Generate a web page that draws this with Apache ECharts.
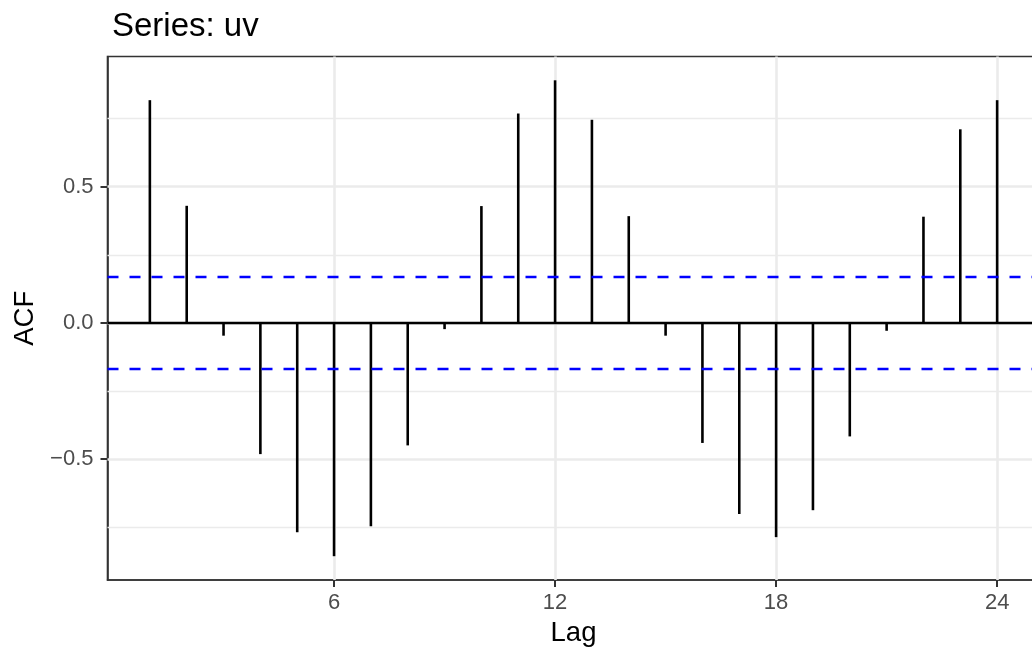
<!DOCTYPE html>
<html>
<head>
<meta charset="utf-8">
<title>Series: uv</title>
<script src="https://cdn.jsdelivr.net/npm/echarts@6/dist/echarts.min.js"></script>
<style>
  html, body { margin: 0; padding: 0; background: #ffffff; }
  #chart { width: 1032px; height: 651px; }
</style>
</head>
<body>
<div id="chart"></div>
<script>
// Autocorrelation of series "uv", lags 1..24
const lags = [1, 2, 3, 4, 5, 6, 7, 8, 9, 10, 11, 12, 13, 14, 15, 16, 17, 18, 19, 20, 21, 22, 23, 24];
const acfValues = [0.818, 0.430, -0.047, -0.482, -0.769, -0.857, -0.747, -0.450, -0.023,
                   0.429, 0.769, 0.891, 0.746, 0.392, -0.047, -0.441, -0.702, -0.787,
                   -0.688, -0.417, -0.029, 0.390, 0.711, 0.818];
const ciLimit = 0.166;               // 1.96 / sqrt(n)
const xTicks = [6, 12, 18, 24];
const yTicks = [-0.5, 0, 0.5];
const yMinorTicks = [-0.75, -0.25, 0.25, 0.75];

const FONT = "'Liberation Sans', Arial, Helvetica, sans-serif";
const TICK_LEN = 7;

// ggplot-style 5% expansion of the data range
function expand(lo, hi) {
  const pad = (hi - lo) * 0.05;
  return [lo - pad, hi + pad];
}
const yLim = expand(Math.min(...acfValues, -ciLimit), Math.max(...acfValues, ciLimit));
const xLim = expand(Math.min(...lags), Math.max(...lags));

const fmtY = v => (v < 0 ? '\u2212' : '') + Math.abs(v).toFixed(1);

const axisLineStyle = { color: '#333333', width: 1.6 };
const tickLineStyle = { color: '#333333', width: 2 };

const chart = echarts.init(document.getElementById('chart'), null, { renderer: 'canvas' });

chart.setOption({
  animation: false,
  backgroundColor: '#ffffff',
  title: {
    text: 'Series: uv',
    left: 107,
    top: 5,
    textStyle: { fontFamily: FONT, fontSize: 33, fontWeight: 'normal', color: '#000000' }
  },
  grid: {
    left: 107.5,
    top: 56.5,
    width: 932,
    height: 523.5,
    outerBoundsMode: 'none',
    containLabel: false,
    show: true,
    borderColor: '#333333',
    borderWidth: 1.6,
    backgroundColor: 'transparent'
  },
  xAxis: {
    type: 'value',
    min: xLim[0],
    max: xLim[1],
    name: 'Lag',
    nameLocation: 'middle',
    nameGap: 39,
    nameTextStyle: { fontFamily: FONT, fontSize: 27.5, color: '#000000' },
    axisLine: { show: true, onZero: false, lineStyle: axisLineStyle },
    splitLine: { show: false },
    axisTick: { show: true, inside: false, customValues: xTicks, length: TICK_LEN, lineStyle: tickLineStyle },
    axisLabel: {
      customValues: xTicks,
      margin: 12,
      fontFamily: FONT, fontSize: 22, color: '#4D4D4D'
    }
  },
  yAxis: {
    type: 'value',
    min: yLim[0],
    max: yLim[1],
    name: 'ACF',
    nameLocation: 'middle',
    nameRotate: 90,
    nameGap: 68,
    nameTextStyle: { fontFamily: FONT, fontSize: 27.5, color: '#000000' },
    axisLine: { show: true, onZero: false, lineStyle: axisLineStyle },
    splitLine: { show: false },
    axisTick: { show: true, inside: false, customValues: yTicks, length: TICK_LEN, lineStyle: tickLineStyle },
    axisLabel: {
      customValues: yTicks,
      margin: 14,
      formatter: fmtY,
      fontFamily: FONT, fontSize: 22, color: '#4D4D4D'
    }
  },
  series: [
    {
      // panel grid lines, kept beneath the bars
      type: 'line',
      data: [],
      z: 1,
      silent: true,
      markLine: {
        z: 1,
        silent: true,
        symbol: 'none',
        label: { show: false },
        animation: false,
        data: [
          ...yMinorTicks.map(v => ({ yAxis: v, lineStyle: { color: '#EBEBEB', width: 1.3, type: 'solid' } })),
          ...yTicks.map(v => ({ yAxis: v, lineStyle: { color: '#EBEBEB', width: 2.6, type: 'solid' } })),
          ...xTicks.map(v => ({ xAxis: v, lineStyle: { color: '#EBEBEB', width: 2.6, type: 'solid' } }))
        ]
      }
    },
    {
      name: 'ACF',
      type: 'bar',
      z: 4,
      barWidth: 2.6,
      itemStyle: { color: '#000000' },
      data: lags.map((lag, i) => [lag, acfValues[i]])
    },
    {
      // zero reference and confidence bounds
      type: 'line',
      data: [],
      z: 5,
      silent: true,
      markLine: {
        z: 6,
        silent: true,
        symbol: 'none',
        label: { show: false },
        animation: false,
        data: [
          { yAxis: 0, lineStyle: { color: '#000000', width: 2.4, type: 'solid' } },
          { yAxis: ciLimit, lineStyle: { color: '#0000FF', width: 2.3, type: [11, 11] } },
          { yAxis: -ciLimit, lineStyle: { color: '#0000FF', width: 2.3, type: [11, 11] } }
        ]
      }
    }
  ]
});
</script>
</body>
</html>
